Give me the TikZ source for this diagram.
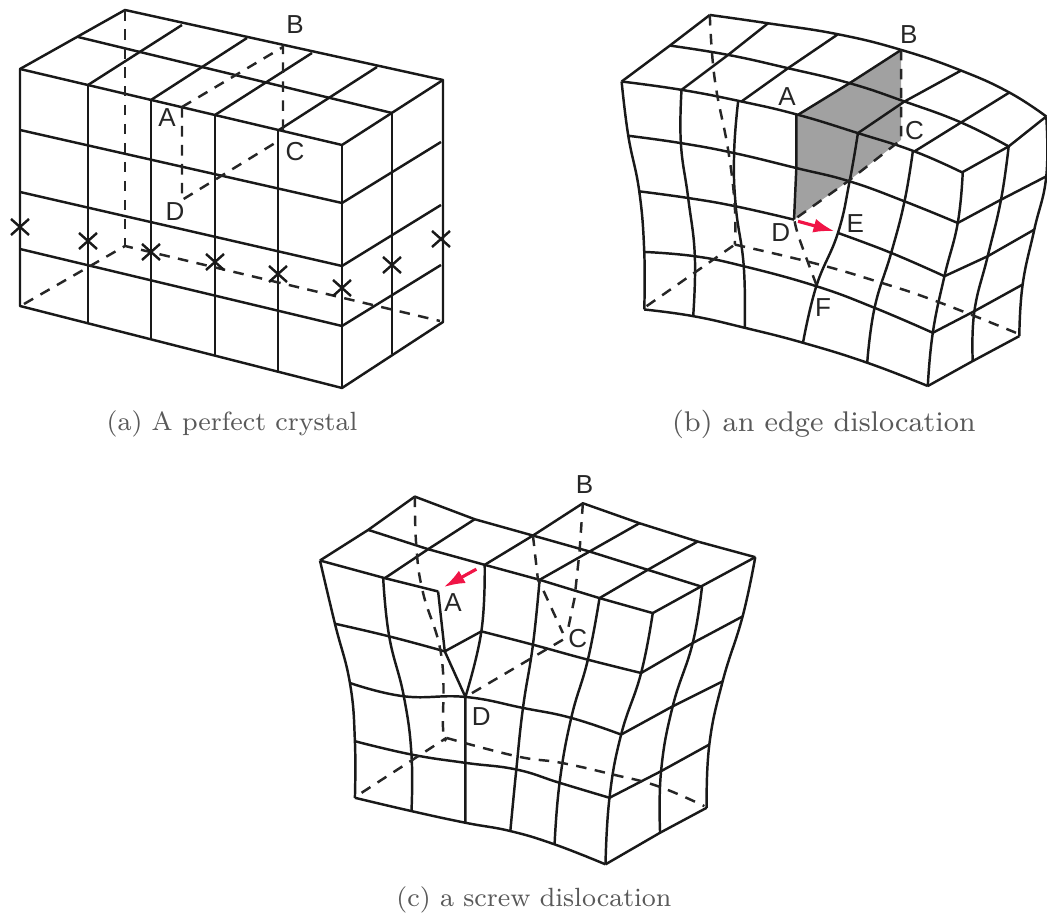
\documentclass[tikz,border=0pt]{standalone}
\usepackage{fontspec}
\usepackage{tikz}
\usetikzlibrary{arrows.meta, positioning}
\newfontfamily\labelfont{Liberation Sans}
\definecolor{SlipRed}{RGB}{240,20,70}
\definecolor{CaptionGray}{gray}{0.35}
\tikzset{
  latline/.style={line width=0.7pt, line join=round, black!90},
  hidden/.style={line width=0.7pt, dash pattern=on 3pt off 2.4pt, black!85},
  crosshair/.style={line width=0.7pt, black!90},
  slip/.style={line width=0.9pt, SlipRed, -{Latex[length=6pt,width=4pt]}},
  letter/.style={font=\labelfont\fontsize{7.4}{9}\selectfont, black!85, inner sep=0pt},
  caption/.style={font=\fontsize{7.5}{10}\selectfont, CaptionGray, inner sep=0pt}
}
\newcommand{\latcurve}[1]{\draw[latline] plot[smooth,tension=.75] coordinates {#1};}
\newcommand{\hidcurve}[1]{\draw[hidden] plot[smooth,tension=.75] coordinates {#1};}
\begin{document}
\begin{tikzpicture}[x=0.01cm,y=-0.01cm]
  \useasboundingbox (0,0) rectangle (1047,916);

  % (a) perfect crystal
  \draw[latline] (20,69) -- (125,10) -- (443,80) -- (443,322) -- (342,388) -- (20,306) -- cycle;
  \draw[latline] (20,69) -- (342,145) -- (443,80);
  \draw[latline] (342,145) -- (342,388);
  \draw[latline] (78,37) -- (392,113);
  \draw[latline] (88,85) -- (182,25);
  \draw[latline] (151,100) -- (247,38);
  \draw[latline] (215,115) -- (312,53);
  \draw[latline] (279,130) -- (377,67);
  \draw[latline] (88,85) -- (88,323);
  \draw[latline] (151,100) -- (151,339);
  \draw[latline] (215,115) -- (215,355);
  \draw[latline] (278,130) -- (278,372);
  \draw[latline] (392,113) -- (392,354);
  \foreach \ya/\yb/\yc in {130/203/142, 192/266/205, 249/326/265}
    \draw[latline] (20,\ya) -- (342,\yb) -- (441,\yc);
  \draw[hidden] (125,10) -- (125,246);
  \draw[hidden] (24,304) -- (125,246) -- (440,321);
  \draw[hidden] (182,107) -- (283,47) -- (283,130);
  \draw[hidden] (182,107) -- (182,200) -- (280,140);
  \foreach \cx/\cy in {20/227, 88/241, 151/252, 215/262, 278/274, 342/288, 392/265, 441/239}
    \draw[crosshair] (\cx-9,\cy-8) -- (\cx+9,\cy+8) (\cx-9,\cy+8) -- (\cx+9,\cy-8);
  \node[letter] (aA) at (167,118) {A};
  \node[letter] (aB) at (295,25) {B};
  \node[letter] (aC) at (295,152) {C};
  \node[letter] (aD) at (175,212) {D};
  \node[caption] (acap) at (232,424) {(a) A perfect crystal};

  % (b) edge dislocation, numbers are from the 3x crop
  \begin{scope}[shift={(600,0)},x=0.00333cm,y=-0.00333cm]
    \fill[black!37] (590,345) -- (905,150) -- (905,420) -- (745,545) -- (583,660) -- cycle;
    % top face
    \latcurve{(330,45) (505,70) (715,103) (905,150) (1085,212) (1230,278) (1341,350)}
    \latcurve{(210,137) (385,165) (565,205) (750,250) (915,305) (1085,368) (1228,440)}
    \latcurve{(65,245) (245,270) (425,305) (595,345) (775,400) (945,455) (1088,518)}
    \draw[latline] (65,245) -- (210,137) -- (330,45);
    \draw[latline] (245,270) -- (385,165) -- (505,70);
    \draw[latline] (425,305) -- (565,205) -- (715,103);
    \draw[latline] (595,345) -- (750,250) -- (905,150);
    \draw[latline] (775,400) -- (915,305) -- (1085,212);
    \draw[latline] (945,455) -- (1085,368) -- (1230,278);
    \draw[latline] (1088,518) -- (1228,440) -- (1341,350);
    % columns
    \latcurve{(65,245) (85,408) (118,575) (133,757) (133,930)}
    \latcurve{(245,270) (243,430) (265,595) (285,770) (280,950)}
    \latcurve{(415,305) (403,460) (408,620) (432,800) (435,985)}
    \draw[latline] (590,345) -- (590,505) -- (583,660);
    \latcurve{(775,400) (750,545) (715,700) (650,860) (610,1030)}
    \latcurve{(940,455) (915,605) (875,760) (825,925) (803,1090)}
    \latcurve{(1090,518) (1075,670) (1035,830) (1000,1000) (985,1160)}
    \latcurve{(1228,440) (1205,600) (1165,770) (1125,935) (1120,1085)}
    \latcurve{(1341,350) (1341,530) (1305,690) (1270,855) (1260,1010)}
    % rows
    \latcurve{(85,408) (243,430) (403,460) (590,505) (750,545) (915,605) (1075,670)}
    \latcurve{(118,575) (265,595) (408,620) (583,660)}
    \latcurve{(715,700) (875,760) (1035,830)}
    \latcurve{(133,757) (285,770) (432,800) (650,860) (825,925) (1000,1000)}
    \latcurve{(133,930) (280,950) (435,985) (610,1030) (803,1090) (985,1160)}
    \draw[latline] (1075,670) -- (1205,600) -- (1341,530);
    \draw[latline] (1035,830) -- (1165,770) -- (1305,690);
    \draw[latline] (1000,1000) -- (1125,935) -- (1270,855);
    \draw[latline] (985,1160) -- (1120,1085) -- (1260,1010);
    % hidden edges
    \hidcurve{(330,45) (345,240) (385,450) (405,620) (405,735)}
    \draw[hidden] (140,920) -- (405,735);
    \hidcurve{(405,735) (640,790) (830,845) (1010,905) (1250,1000)}
    \draw[hidden] (905,150) -- (905,420) -- (745,545) -- (583,660);
    \hidcurve{(585,665) (600,720) (650,855)}
    \coordinate (bslip) at (595,665);
    \coordinate (bslipend) at (705,695);
    \draw[slip] (bslip) -- (bslipend);
    \node[letter] (bA) at (562,290) {A};
    \node[letter] (bB) at (928,103) {B};
    \node[letter] (bC) at (945,393) {C};
    \node[letter] (bD) at (543,700) {D};
    \node[letter] (bE) at (767,672) {E};
    \node[letter] (bF) at (670,925) {F};
  \end{scope}
  \node[caption,font=\fontsize{8.1}{10}\selectfont] (bcap) at (824,424) {(b) an edge dislocation};

  % (c) screw dislocation, same 3x crop numbers
  \begin{scope}[shift={(300,470)},x=0.00333cm,y=-0.00333cm]
    % top face
    \draw[latline] (60,272) -- (205,180) -- (345,80) -- (525,148) -- (700,197) -- (850,100) -- (1020,160) -- (1195,215) -- (1368,262);
    \draw[latline] (60,272) -- (255,325) -- (415,365);
    \draw[latline] (205,180) -- (385,238) -- (555,285) -- (720,330) -- (900,385) -- (1060,430);
    \draw[latline] (700,197) -- (870,245) -- (1045,300) -- (1205,350);
    \draw[latline] (255,325) -- (385,238) -- (525,148);
    \draw[latline] (555,285) -- (700,197);
    \draw[latline] (720,330) -- (870,245) -- (1020,160);
    \draw[latline] (900,385) -- (1045,300) -- (1195,215);
    \draw[latline] (1060,430) -- (1205,350) -- (1368,262);
    % columns
    \latcurve{(60,272) (105,462) (150,640) (165,815) (165,985)}
    \latcurve{(250,325) (268,500) (312,680) (335,855) (335,1025)}
    \draw[latline] (415,365) -- (435,545) -- (497,682) -- (497,1060);
    \latcurve{(555,285) (545,485) (497,682)}
    \latcurve{(720,330) (700,525) (670,715) (650,900) (632,1085)}
    \latcurve{(900,385) (865,570) (815,745) (780,940) (765,1125)}
    \latcurve{(1060,430) (1025,610) (965,795) (930,985) (918,1185)}
    \latcurve{(1208,350) (1180,520) (1120,710) (1085,905) (1082,1090)}
    \latcurve{(1368,262) (1330,440) (1270,635) (1230,825) (1222,1015)}
    % rows
    \latcurve{(105,462) (268,500) (435,545)}
    \draw[latline] (435,545) -- (545,485);
    \latcurve{(545,485) (700,525) (865,570) (1025,610)}
    \latcurve{(150,640) (312,680) (497,682) (670,715) (815,745) (965,795)}
    \latcurve{(165,815) (335,855) (497,880) (650,900) (780,940) (930,985)}
    \latcurve{(165,985) (335,1025) (497,1060) (632,1085) (765,1125) (918,1185)}
    \draw[latline] (1025,610) -- (1180,520) -- (1330,440);
    \draw[latline] (965,795) -- (1120,710) -- (1270,635);
    \draw[latline] (930,985) -- (1085,905) -- (1230,825);
    \draw[latline] (918,1185) -- (1082,1090) -- (1222,1015);
    % hidden edges
    \hidcurve{(345,80) (350,235) (370,370) (425,560) (430,780) (440,805)}
    \draw[hidden] (185,970) -- (440,805);
    \hidcurve{(440,805) (650,860) (785,880) (940,915) (1075,950) (1215,1010)}
    \draw[hidden] (700,197) -- (715,330) -- (735,370) -- (790,490);
    \draw[hidden] (850,100) -- (840,245) -- (825,385) -- (805,480);
    \draw[hidden] (790,510) -- (497,682);
    \coordinate (cslip) at (530,298);
    \coordinate (cslipend) at (432,352);
    \draw[slip] (cslip) -- (cslipend);
    \node[letter] (cA) at (460,397) {A};
    \node[letter] (cB) at (855,45) {B};
    \node[letter] (cC) at (835,507) {C};
    \node[letter] (cD) at (545,740) {D};
  \end{scope}
  \node[caption] (ccap) at (534,900) {(c) a screw dislocation};
\end{tikzpicture}
\end{document}
